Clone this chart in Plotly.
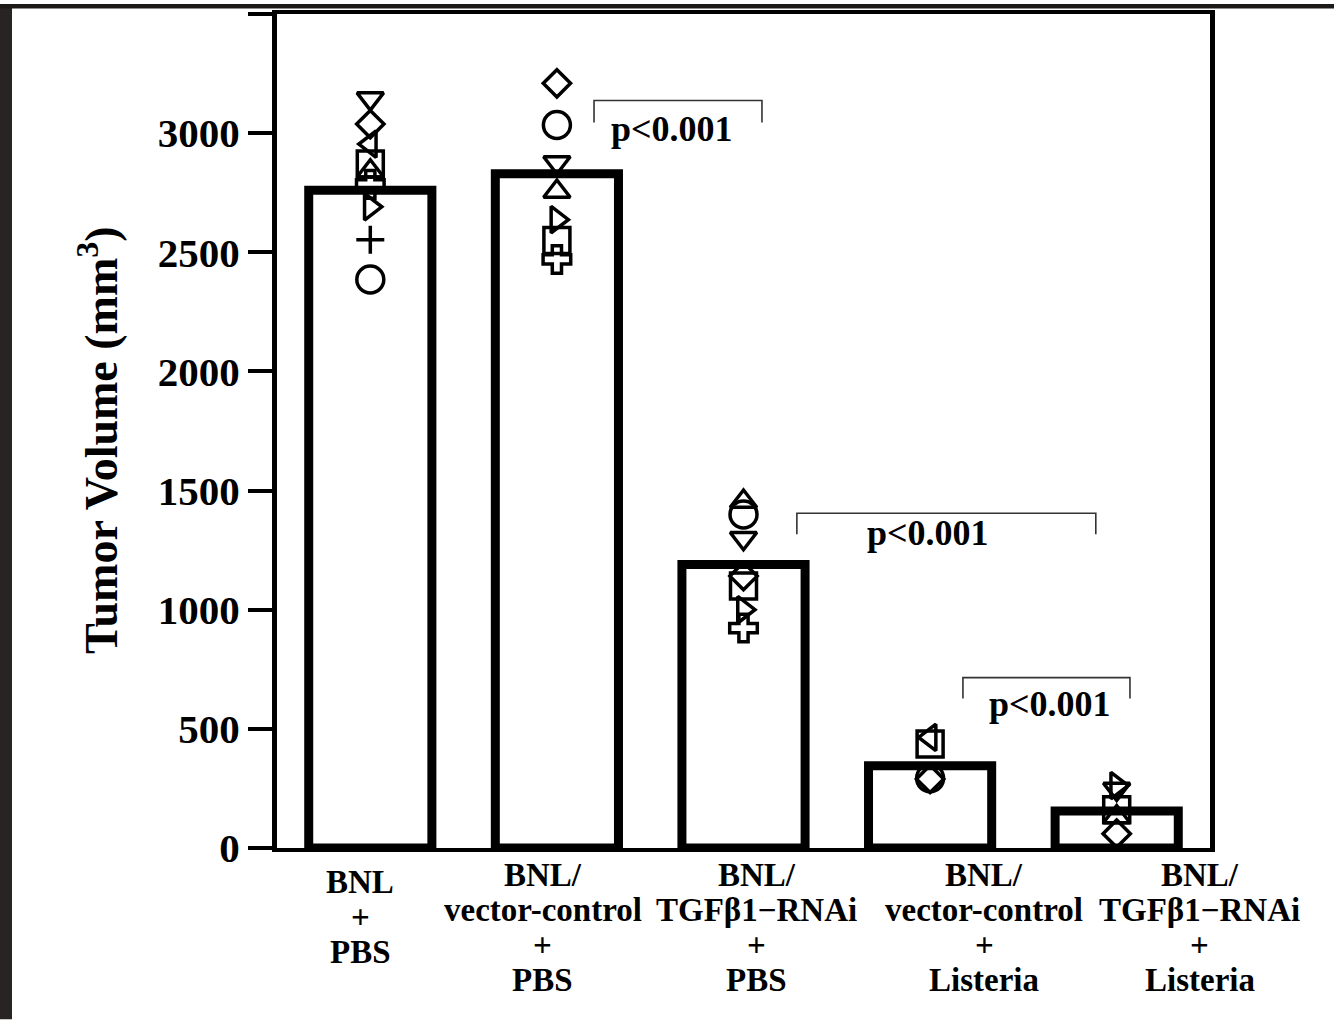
import plotly.graph_objects as go

# ---------------- data ----------------
categories = [0, 1, 2, 3, 4]
bar_means = [2760, 2830, 1190, 345, 155]

label_lines = [
    ["BNL", "+", "PBS"],
    ["BNL/", "vector-control", "+", "PBS"],
    ["BNL/", "TGFβ1−RNAi", "+", "PBS"],
    ["BNL/", "vector-control", "+", "Listeria"],
    ["BNL/", "TGFβ1−RNAi", "+", "Listeria"],
]

g1_symbols = ["triangle-down", "diamond", "triangle-left", "square", "triangle-up", "cross", "triangle-right", "cross-thin", "circle"]
g1_values = [3145, 3038, 2954, 2870, 2840, 2785, 2691, 2553, 2386]

g2_symbols = ["diamond", "circle", "triangle-down", "triangle-up", "triangle-right", "square", "cross"]
g2_values = [3209, 3034, 2877, 2755, 2637, 2549, 2470]

g3_symbols = ["triangle-up", "circle", "triangle-down", "diamond", "square", "triangle-right", "cross"]
g3_values = [1454, 1400, 1300, 1141, 1099, 1000, 923]

g4_symbols = ["triangle-left", "square", "circle", "diamond"]
g4_values = [464, 436, 293, 290]

g5_symbols = ["triangle-right", "triangle-down", "square", "triangle-up", "diamond"]
g5_values = [262, 248, 160, 130, 60]

groups_symbols = [g1_symbols, g2_symbols, g3_symbols, g4_symbols, g5_symbols]
groups_values = [g1_values, g2_values, g3_values, g4_values, g5_values]

y_tickvals = [0, 500, 1000, 1500, 2000, 2500, 3000, 3500]
y_ticktext = ["0", "500", "1000", "1500", "2000", "2500", "3000", " "]

# significance brackets: (x_left, x_right, y_top, y_bottom, label_x, label_y)
brackets = [
    (1.199, 2.099, 3137, 3045, 1.618, 3019),
    (2.286, 3.888, 1405, 1317, 2.988, 1321),
    (3.176, 4.071, 715, 627, 3.643, 606),
]
p_label = "p<0.001"

# ---------------- style / layout ----------------
W, H = 1334, 1020
L, R, T, B = 277, 124, 10, 172
PW, PH = W - L - R, H - T - B
FONT = "Liberation Serif"

sym_size = {
    "triangle-down": 23, "triangle-up": 23, "triangle-left": 23, "triangle-right": 23,
    "diamond": 21, "square": 26, "circle": 27, "cross": 23, "cross-thin": 20,
}

label_x_pos = [-0.055, 0.925, 2.072, 3.289, 4.446]
label_first_py = [882, 875, 875, 875, 875]
label_spacing = 35.3


def py_to_paper(py):
    return (H - B - py) / PH


def px_to_paper(px):
    return (px - L) / PW


fig = go.Figure()

fig.add_trace(go.Bar(
    x=categories, y=bar_means, width=0.66,
    marker=dict(color="white", line=dict(color="black", width=9)),
    showlegend=False, hoverinfo="skip",
))

for i, (syms, vals) in enumerate(zip(groups_symbols, groups_values)):
    symbols = [s if s == "cross-thin" else s + "-open" for s in syms]
    sizes = [sym_size[s] for s in syms]
    fig.add_trace(go.Scatter(
        x=[categories[i]] * len(vals), y=vals, mode="markers",
        marker=dict(symbol=symbols, size=sizes, color="black", opacity=1,
                    line=dict(color="black", width=3.5)),
        showlegend=False, cliponaxis=False,
    ))

shapes = []
annotations = []
for (xl, xr, yt, yb, lx, ly) in brackets:
    shapes.append(dict(
        type="path", xref="x", yref="y",
        path=f"M {xl},{yb} L {xl},{yt} L {xr},{yt} L {xr},{yb}",
        line=dict(color="#333333", width=1.6),
    ))
    annotations.append(dict(
        x=lx, y=ly, xref="x", yref="y", text=p_label, showarrow=False,
        font=dict(family=FONT, size=36, color="black", weight="bold"),
        xanchor="center", yanchor="middle",
    ))

for i, lines in enumerate(label_lines):
    for j, line in enumerate(lines):
        py = label_first_py[i] + j * label_spacing
        annotations.append(dict(
            x=label_x_pos[i], y=py_to_paper(py), xref="x", yref="paper",
            text=line, showarrow=False,
            font=dict(family=FONT, size=33, color="black", weight="bold"),
            xanchor="center", yanchor="middle",
        ))

# y axis title
annotations.append(dict(
    x=px_to_paper(98), y=py_to_paper(438), xref="paper", yref="paper",
    text="Tumor Volume (mm<sup>3</sup>)", showarrow=False, textangle=-90,
    font=dict(family=FONT, size=46, color="black", weight="bold"),
    xanchor="center", yanchor="middle",
))

# dark border strips of the original picture
shapes.append(dict(type="rect", xref="paper", yref="paper",
                   x0=px_to_paper(0), x1=px_to_paper(12),
                   y0=py_to_paper(H), y1=py_to_paper(0),
                   fillcolor="#282423", line=dict(width=0), layer="above"))
shapes.append(dict(type="rect", xref="paper", yref="paper",
                   x0=px_to_paper(0), x1=px_to_paper(W),
                   y0=py_to_paper(4.5), y1=py_to_paper(0),
                   fillcolor="#1c1a19", line=dict(width=0), layer="above"))

fig.update_layout(
    width=W, height=H,
    margin=dict(l=L, r=R, t=T, b=B),
    paper_bgcolor="white", plot_bgcolor="white",
    showlegend=False,
    shapes=shapes, annotations=annotations,
    xaxis=dict(
        range=[-0.5, 4.5], showgrid=False, zeroline=False,
        showticklabels=False, ticks="",
        showline=True, linecolor="black", linewidth=3.5, mirror=True,
    ),
    yaxis=dict(
        range=[0, 3500], showgrid=False, zeroline=False,
        tickvals=y_tickvals, ticktext=y_ticktext,
        ticks="outside", ticklen=24, tickwidth=4, tickcolor="black",
        tickfont=dict(family=FONT, size=41, color="black", weight="bold"),
        showline=True, linecolor="black", linewidth=5, mirror=True,
    ),
)

fig.write_html("out.html", config={"displayModeBar": False},
               post_script="document.body.style.margin='0';")
